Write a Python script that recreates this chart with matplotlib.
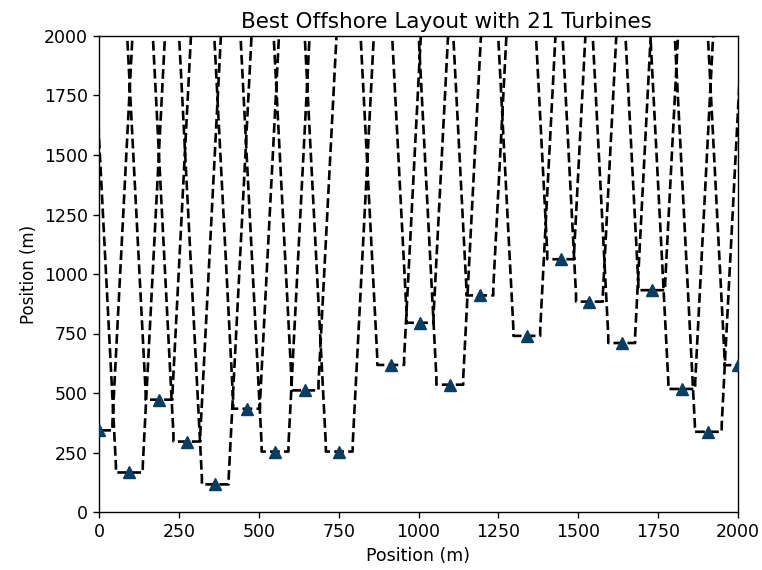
import numpy as np
import matplotlib
matplotlib.use('Agg')
import matplotlib.pyplot as plt

# turbine positions (m)
turbine_x = [0, 95, 188, 275, 364, 462, 551, 645, 752, 913, 1005,
             1098, 1192, 1339, 1445, 1535, 1636, 1730, 1824, 1907, 2000]
turbine_y = [343, 166, 472, 296, 116, 434, 254, 511, 254, 618, 795,
             535, 910, 740, 1062, 884, 710, 932, 517, 337, 617]

# exclusion well around each turbine: flat floor, sloping walls
half_width = 42
wall_slope = 0.038
wall_top = 2400
corner = 30

px, py = [], []
for x, y in zip(turbine_x, turbine_y):
    spread = half_width + wall_slope * (wall_top - y)
    px += [x - spread, x - half_width, x - half_width, x + half_width, x + half_width, x + spread]
    py += [wall_top, y + corner, y, y, y + corner, wall_top]

fig = plt.figure(figsize=(7.62, 5.70), dpi=100)
ax = fig.add_axes([99 / 762, 58 / 570, 639 / 762, 476 / 570])

ax.plot(px, py, 'k--', lw=1.9)
ax.plot(turbine_x, turbine_y, '^', color='#0a3d62', markersize=8.5, zorder=3)

ax.set_xlim(0, 2000)
ax.set_ylim(0, 2000)
ax.set_xticks(np.arange(0, 2001, 250))
ax.set_yticks(np.arange(0, 2001, 250))
ax.tick_params(labelsize=12.5, length=4.5, width=1.0)
for s in ax.spines.values():
    s.set_linewidth(1.0)

ax.set_title('Best Offshore Layout with 21 Turbines', fontsize=15.5, x=0.543)
ax.set_xlabel('Position (m)', fontsize=12.5)
ax.set_ylabel('Position (m)', fontsize=12)

fig.savefig('out.png', dpi=100)
